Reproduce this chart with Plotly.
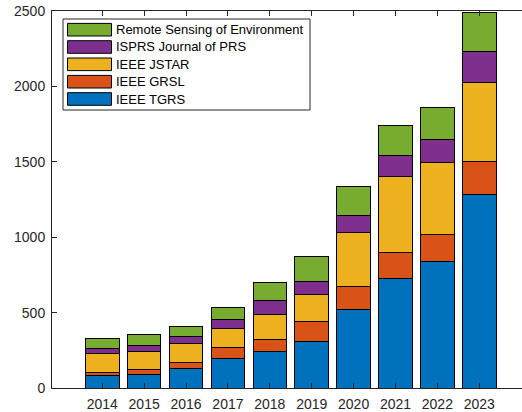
import plotly.graph_objects as go

years = [2014, 2015, 2016, 2017, 2018, 2019, 2020, 2021, 2022, 2023]
tgrs = [85, 90, 129, 194, 242, 309, 519, 725, 840, 1280]
grsl = [18, 31, 40, 73, 82, 133, 153, 173, 179, 222]
jstar = [124, 119, 126, 126, 164, 181, 358, 504, 476, 525]
isprs = [37, 42, 47, 64, 91, 82, 115, 142, 153, 203]
rse = [67, 71, 66, 76, 121, 164, 188, 197, 210, 262]

names = ["IEEE TGRS", "IEEE GRSL", "IEEE JSTAR", "ISPRS Journal of PRS", "Remote Sensing of Environment"]
series = [tgrs, grsl, jstar, isprs, rse]
colors = ["#0072BD", "#D95319", "#EDB120", "#7E2F8E", "#77AC30"]
yticks = [0, 500, 1000, 1500, 2000, 2500]

W, H = 522, 412
ML, MR, MT, MB = 52, 0, 11, 24
PW, PH = W - ML - MR, H - MT - MB


def X(px):
    return (px - ML) / PW


def Y(py):
    return 1 - (py - MT) / PH


fig = go.Figure()
for name, vals, col in zip(names, series, colors):
    fig.add_trace(go.Bar(x=years, y=vals, name=name, width=0.8,
                         marker=dict(color=col, line=dict(color="black", width=1)),
                         showlegend=False))

# manual MATLAB-style legend
shapes = []
annotations = []
shapes.append(dict(type="rect", xref="paper", yref="paper",
                   x0=X(63), x1=X(310), y0=Y(110), y1=Y(19),
                   line=dict(color="#262626", width=1), fillcolor="white", layer="above"))
row_centers = [29.7, 47.0, 64.3, 81.7, 99.0]
for i, (name, col) in enumerate(zip(names[::-1], colors[::-1])):
    cy = row_centers[i]
    shapes.append(dict(type="rect", xref="paper", yref="paper",
                       x0=X(67.5), x1=X(111.5), y0=Y(cy + 6.3), y1=Y(cy - 6.3),
                       line=dict(color="black", width=1), fillcolor=col, layer="above"))
    annotations.append(dict(xref="paper", yref="paper", x=X(114), y=Y(cy),
                            text=name, showarrow=False, xanchor="left", yanchor="middle",
                            font=dict(family="Liberation Sans, Arial", size=13, color="black")))

fig.update_layout(
    barmode="stack",
    width=W, height=H,
    margin=dict(l=ML, r=MR, t=MT, b=MB, pad=0),
    plot_bgcolor="white", paper_bgcolor="white",
    font=dict(family="Liberation Sans, Arial", size=14, color="#262626"),
    shapes=shapes, annotations=annotations,
    bargap=0.2,
)
fig.update_xaxes(range=[2012.8, 2024.02], tickvals=years, ticktext=[str(y) for y in years],
                 ticks="inside", ticklen=5, tickcolor="#262626", showline=True, linecolor="#262626",
                 linewidth=1, mirror="ticks", showgrid=False, zeroline=False,
                 ticklabelstandoff=3,
                 tickfont=dict(size=14, color="#262626"))
fig.update_yaxes(range=[0, 2500], tickvals=yticks, ticks="inside", ticklen=5, tickcolor="#262626",
                 showline=True, linecolor="#262626", linewidth=1, showgrid=False, zeroline=False,
                 ticklabelstandoff=3,
                 tickfont=dict(size=14, color="#262626"))

fig.write_html("out.html", config={"displayModeBar": False},
               post_script="document.body.style.margin='0';document.body.style.overflow='hidden';")
